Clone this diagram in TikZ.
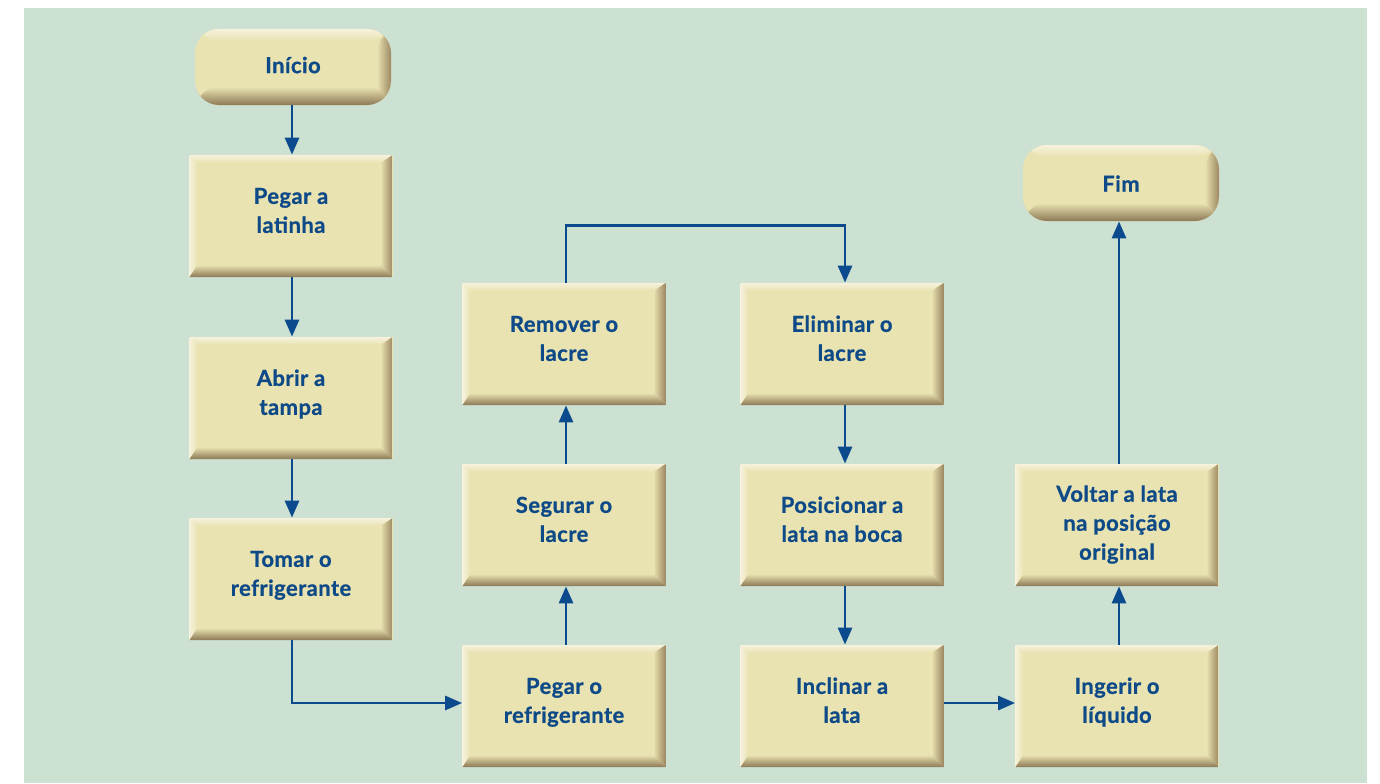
\documentclass[tikz,border=0pt]{standalone}
\usepackage{fontspec}
\setmainfont{Lato}[LetterSpace=2, BoldFeatures={FakeBold=0.8}]
\usetikzlibrary{arrows.meta,calc}

\definecolor{bg}{HTML}{CDE1D3}
\definecolor{boxmain}{HTML}{E9E2B1}
\definecolor{boxlight}{HTML}{F6F2DC}
\definecolor{boxright}{HTML}{9C8862}
\definecolor{boxbottom}{HTML}{8C7955}
\definecolor{ink}{HTML}{0D4A87}
\definecolor{flow}{HTML}{0B4A8C}

% lines of a box label, centred and lifted by #1
\newcommand\boxlines[2][-1pt]{%
  \raisebox{#1}[0pt][0pt]{\begin{tabular}{@{}c@{}}#2\end{tabular}}}

\tikzset{
  boxtext/.style={inner sep=0pt, align=center, text=ink,
    font=\bfseries\fontsize{11}{14.5}\selectfont},
  % bevelled process box
  procbox/.style={boxtext, rectangle, minimum width=101.5pt, minimum height=61pt,
    fill=boxmain,
    path picture={
      \coordinate (nw) at (path picture bounding box.north west);
      \coordinate (ne) at (path picture bounding box.north east);
      \coordinate (sw) at (path picture bounding box.south west);
      \coordinate (se) at (path picture bounding box.south east);
      \shade[top color=boxlight, bottom color=boxmain]
        (nw) -- (ne) -- ($(ne)+(-6pt,-4pt)$) -- ($(nw)+(4pt,-4pt)$) -- cycle;
      \shade[left color=boxlight, right color=boxmain]
        (nw) -- ($(nw)+(4pt,-4pt)$) -- ($(sw)+(4pt,6pt)$) -- (sw) -- cycle;
      \shade[left color=boxmain, right color=boxright]
        (ne) -- (se) -- ($(se)+(-6pt,6pt)$) -- ($(ne)+(-6pt,-4pt)$) -- cycle;
      \shade[top color=boxmain, bottom color=boxbottom]
        (sw) -- ($(sw)+(4pt,6pt)$) -- ($(se)+(-6pt,6pt)$) -- (se) -- cycle;
    }},
  % rounded start / end box
  termbox/.style={boxtext, rectangle, rounded corners=12pt,
    minimum width=98pt, minimum height=38pt, fill=boxmain,
    path picture={
      \coordinate (nw) at (path picture bounding box.north west);
      \coordinate (ne) at (path picture bounding box.north east);
      \coordinate (sw) at (path picture bounding box.south west);
      \coordinate (se) at (path picture bounding box.south east);
      \shade[top color=boxlight, bottom color=boxmain] (nw) rectangle ($(ne)+(0,-6pt)$);
      \shade[left color=boxmain, right color=boxright] ($(ne)+(-7pt,0)$) rectangle (se);
      \shade[top color=boxmain, bottom color=boxbottom] ($(sw)+(0,9pt)$) rectangle (se);
    }},
  flowarrow/.style={draw=flow, line width=1.45pt,
    -{Triangle[length=8.5pt,width=7pt]}},
}

\begin{document}
\begin{tikzpicture}[x=0.5pt, y=-0.5pt]
  % canvas and panel
  \useasboundingbox (0,0) rectangle (1380,783);
  \fill[white] (0,0) rectangle (1380,783);
  \fill[bg] (24,8) rectangle (1367,783);

  % first column
  \node[termbox] (ini) at (293,67) {\boxlines[-2.9pt]{Início}};
  \node[procbox] (p1) at (291,216) {\boxlines{Pegar a\\latinha}};
  \node[procbox] (p2) at (291,398) {\boxlines{Abrir a\\tampa}};
  \node[procbox] (p3) at (291,579) {\boxlines{Tomar o\\refrigerante}};

  % second column
  \node[procbox] (p4) at (564,706) {\boxlines{Pegar o\\refrigerante}};
  \node[procbox] (p5) at (564,525) {\boxlines{Segurar o\\lacre}};
  \node[procbox] (p6) at (564,344) {\boxlines{Remover o\\lacre}};

  % third column
  \node[procbox] (p7) at (842,344) {\boxlines{Eliminar o\\lacre}};
  \node[procbox] (p8) at (842,525) {\boxlines{Posicionar a\\lata na boca}};
  \node[procbox] (p9) at (842,706) {\boxlines{Inclinar a\\lata}};

  % fourth column
  \node[procbox] (p10) at (1117,706) {\boxlines{Ingerir o\\líquido}};
  \node[procbox] (p11) at (1117,525) {\boxlines[-2.7pt]{Voltar a lata\\na posição\\original}};
  \node[termbox] (fim) at (1121,183) {\boxlines[-4.2pt]{Fim}};

  % connectors
  \draw[flowarrow] ([xshift=0.5pt]p1.north |- ini.south) -- ([xshift=0.5pt]p1.north);
  \draw[flowarrow] ([xshift=0.5pt]p1.south) -- ([xshift=0.5pt]p2.north);
  \draw[flowarrow] ([xshift=0.5pt]p2.south) -- ([xshift=0.5pt]p3.north);
  \draw[flowarrow] ([xshift=0.5pt]p3.south) |- ([yshift=1.5pt]p4.west);
  \draw[flowarrow] ([xshift=1pt]p4.north) -- ([xshift=1pt]p5.north |- p5.south);
  \draw[flowarrow] ([xshift=1pt]p5.north) -- ([xshift=1pt]p6.north |- p6.south);
  \draw[flowarrow] ([xshift=1pt]p6.north) -- ++(0,28.5pt) -| ([xshift=1.5pt]p7.north);
  \draw[flowarrow] ([xshift=1.5pt]p7.south) -- ([xshift=1.5pt]p8.north);
  \draw[flowarrow] ([xshift=1.5pt]p8.south) -- ([xshift=1.5pt]p9.north);
  \draw[flowarrow] ([yshift=1.5pt]p9.east) -- ([yshift=1.5pt]p10.west);
  \draw[flowarrow] ([xshift=1pt]p10.north) -- ([xshift=1pt]p11.south);
  \draw[flowarrow] ([xshift=1pt]p11.north) -- ([xshift=1pt]p11.north |- fim.south);
\end{tikzpicture}
\end{document}
